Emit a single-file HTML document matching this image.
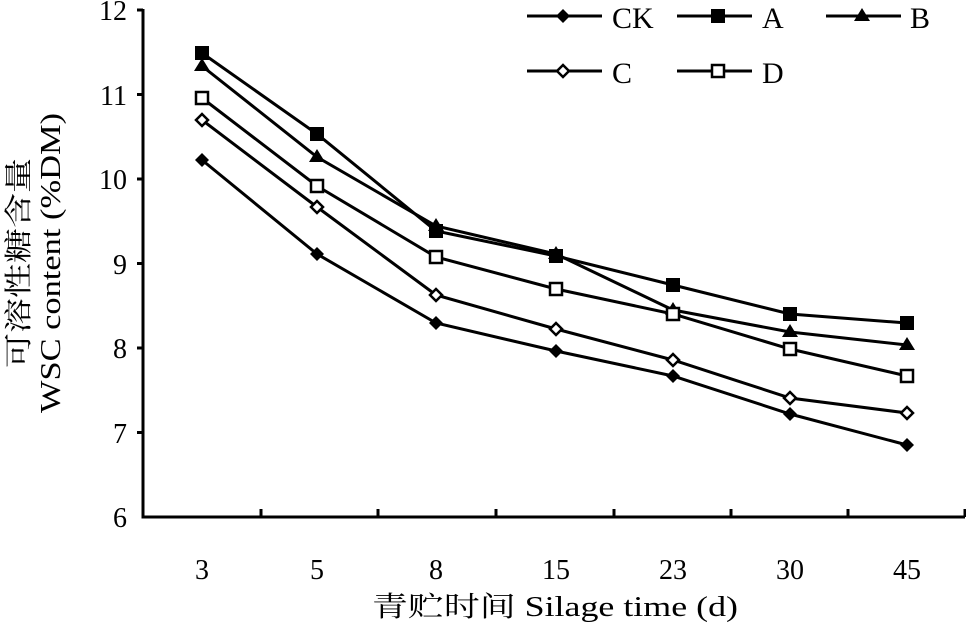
<!DOCTYPE html>
<html><head><meta charset="utf-8"><style>
html,body{margin:0;padding:0;background:#fff;}
svg{display:block;}
text{font-family:"Liberation Serif","Noto Serif CJK SC",serif;fill:#000;}
</style></head><body>
<svg width="966" height="625" viewBox="0 0 966 625" xmlns="http://www.w3.org/2000/svg">
<defs>
<path id="dia" d="M0,-7 L7,0 L0,7 L-7,0 Z"/>
</defs>
<g stroke="#000" stroke-width="3" fill="none">
<path d="M143,9 L143,517 L965,517"/>
<path d="M137,10H143M137,94.5H143M137,179H143M137,263.5H143M137,348H143M137,432.5H143"/>
<path d="M261,517V509M378,517V509M496,517V509M614,517V509M731,517V509M848,517V509M965,517V509"/>
</g>
<g font-size="28" text-anchor="end">
<text x="127" y="20">12</text><text x="127" y="105">11</text><text x="127" y="189">10</text>
<text x="127" y="274">9</text><text x="127" y="358">8</text><text x="127" y="443">7</text><text x="127" y="527">6</text>
</g>
<g font-size="28" text-anchor="middle">
<text x="202" y="579">3</text><text x="317" y="579">5</text><text x="436" y="579">8</text>
<text x="556" y="579">15</text><text x="673" y="579">23</text><text x="790" y="579">30</text><text x="907" y="579">45</text>
<text x="555" y="616" textLength="366" lengthAdjust="spacingAndGlyphs">青贮时间 Silage time (d)</text>
</g>
<g font-size="28" text-anchor="middle">
<text transform="translate(28,263) rotate(-90)" textLength="210" lengthAdjust="spacingAndGlyphs">可溶性糖含量</text>
<text transform="translate(60,263) rotate(-90)" textLength="300" lengthAdjust="spacingAndGlyphs">WSC content (%DM)</text>
</g>
<g stroke="#000" stroke-width="3" fill="none">
<polyline points="202,160 317,254 436,323 556,351 673,376 790,414 907,445"/>
<polyline points="202,53 317,134 436,231 556,256 673,285 790,314 907,323"/>
<polyline points="202,66 317,157 436,226 556,254 673,310 790,332 907,345"/>
<polyline points="202,120 317,207 436,295 556,329 673,360 790,398 907,413"/>
<polyline points="202,98 317,186 436,257 556,289 673,314 790,349 907,376"/>
<path d="M527,16H602M677,16H752M826,16H901M527,71H602M677,71H752"/>
</g>
<g fill="#000">
<use href="#dia" x="202" y="160"/><use href="#dia" x="317" y="254"/><use href="#dia" x="436" y="323"/><use href="#dia" x="556" y="351"/><use href="#dia" x="673" y="376"/><use href="#dia" x="790" y="414"/><use href="#dia" x="907" y="445"/><use href="#dia" x="563" y="16"/>
<path d="M195,46h14v14h-14zM310,127h14v14h-14zM429,224h14v14h-14zM549,249h14v14h-14zM666,278h14v14h-14zM783,307h14v14h-14zM900,316h14v14h-14zM711,9h14v14h-14z"/>
<path d="M202,58l8,13h-16zM317,149l8,13h-16zM436,218l8,13h-16zM556,246l8,13h-16zM673,302l8,13h-16zM790,324l8,13h-16zM907,337l8,13h-16zM862,8l8,13h-16z"/>
</g>
<g fill="#fff" stroke="#000" stroke-width="2.5">
<path d="M202,114l6,6l-6,6l-6,-6zM317,201l6,6l-6,6l-6,-6zM436,289l6,6l-6,6l-6,-6zM556,323l6,6l-6,6l-6,-6zM673,354l6,6l-6,6l-6,-6zM790,392l6,6l-6,6l-6,-6zM907,407l6,6l-6,6l-6,-6zM563,65l6,6l-6,6l-6,-6z"/>
<path d="M196,92h12v12h-12zM311,180h12v12h-12zM430,251h12v12h-12zM550,283h12v12h-12zM667,308h12v12h-12zM784,343h12v12h-12zM901,370h12v12h-12zM712,65h12v12h-12z"/>
</g>
<g font-size="30">
<text x="612" y="28">CK</text><text x="762" y="28">A</text><text x="910" y="28">B</text>
<text x="612" y="83">C</text><text x="762" y="83">D</text>
</g>
</svg>
</body></html>
